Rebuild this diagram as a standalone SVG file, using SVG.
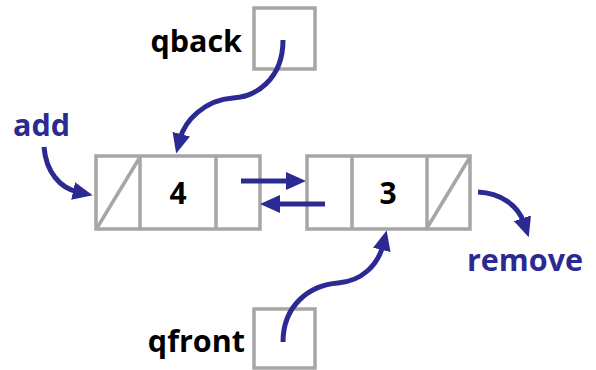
<svg xmlns="http://www.w3.org/2000/svg" width="596" height="370" viewBox="0 0 596 370">
<style>
.box{fill:#ffffff;stroke:#a6a6a6;stroke-width:3.5}
.div{fill:none;stroke:#a6a6a6;stroke-width:3.5}
.lbl{font-family:"Open Sans","Liberation Sans",sans-serif;font-weight:700;font-size:30.5px;fill:#000000}
.act{font-family:"Open Sans","Liberation Sans",sans-serif;font-weight:700;font-size:30.5px;fill:#2b2a92}
.val{font-family:"Open Sans","Liberation Sans",sans-serif;font-weight:700;font-size:30px;fill:#000000;text-anchor:middle}
.arr{fill:none;stroke:#2b2a92;stroke-width:5;marker-end:url(#ah)}
</style>
<defs>
<marker id="ah" viewBox="0 0 20 18" markerUnits="userSpaceOnUse" markerWidth="20" markerHeight="18" refX="5" refY="9" orient="auto">
<path d="M0,0 L20,9 L0,18 z" fill="#2b2a92"/>
</marker>
</defs>
<rect width="596" height="370" fill="#ffffff"/>
<g id="qback">
<rect class="box" x="254" y="8" width="61" height="61"/>
<text class="lbl" x="242" y="52" text-anchor="end">qback</text>
</g>
<g id="qfront">
<rect class="box" x="254" y="309" width="61" height="59"/>
<text class="lbl" x="245" y="352" text-anchor="end">qfront</text>
</g>
<g id="node4">
<rect class="box" x="96" y="156" width="164" height="73"/>
<line class="div" x1="140" y1="156" x2="140" y2="229"/>
<line class="div" x1="216" y1="156" x2="216" y2="229"/>
<line class="div" x1="97" y1="228" x2="140" y2="157"/>
<text class="val" x="178" y="204">4</text>
</g>
<g id="node3">
<rect class="box" x="307" y="156" width="163" height="73"/>
<line class="div" x1="352" y1="156" x2="352" y2="229"/>
<line class="div" x1="427" y1="156" x2="427" y2="229"/>
<line class="div" x1="427" y1="228" x2="470" y2="157"/>
<text class="val" x="388" y="204">3</text>
</g>
<g id="add">
<text class="act" x="13" y="136">add</text>
</g>
<g id="remove">
<text class="act" x="467" y="271">remove</text>
</g>
<g id="connectors">
<path class="arr" d="M241,181 L291,181"/>
<path class="arr" d="M325,204 L275,204"/>
<path class="arr" d="M283,40 C283,80 255,97 233,98 C205,100 185,120 180,139"/>
<path class="arr" d="M283,342 C283,305 310,285 338,283 C362,281 378,265 383,245"/>
<path class="arr" d="M44,147 C46,172 60,188 78,192"/>
<path class="arr" d="M478,192 C500,193 518,205 524,223"/>
</g>
</svg>
